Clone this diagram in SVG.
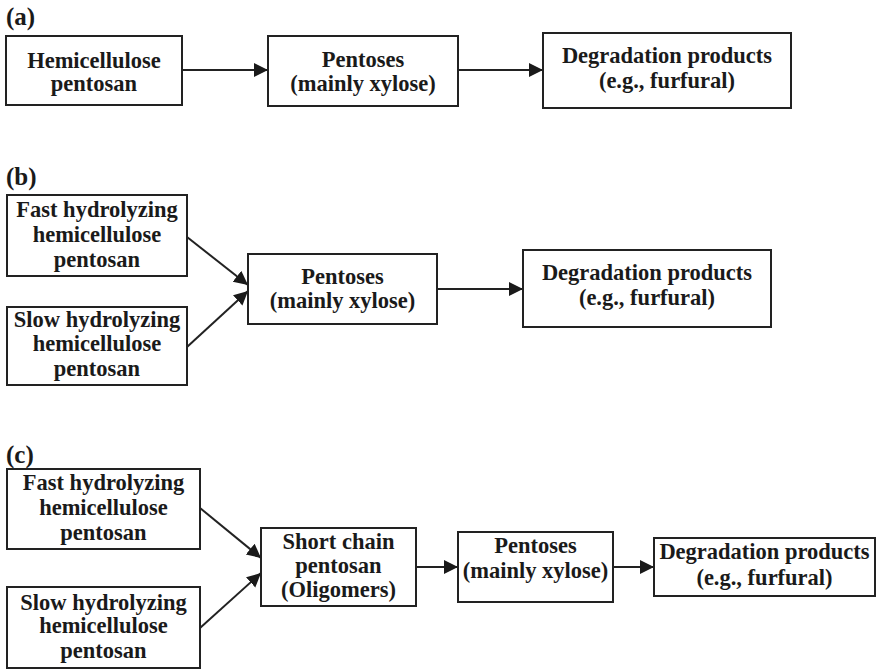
<svg xmlns="http://www.w3.org/2000/svg" width="876" height="670" viewBox="0 0 876 670">
<style>
  .box { fill: #ffffff; stroke: #222222; stroke-width: 2; }
  .t { font-family: "Liberation Serif", "Times New Roman", serif; font-weight: bold; font-size: 22.5px; fill: #1a1a1a; text-anchor: middle; }
  .lbl { font-family: "Liberation Serif", "Times New Roman", serif; font-weight: bold; font-size: 25px; fill: #1a1a1a; }
  .c { stroke: #222222; stroke-width: 2; fill: none; marker-end: url(#ah); }
</style>
<defs>
  <marker id="ah" markerUnits="userSpaceOnUse" markerWidth="15" markerHeight="15" refX="14" refY="7" orient="auto">
    <path d="M0,0 L14,7 L0,14 z" fill="#1a1a1a"/>
  </marker>
</defs>
<rect width="876" height="670" fill="#ffffff"/>

<text class="lbl" x="6" y="25">(a)</text>
<text class="lbl" x="6" y="185">(b)</text>
<text class="lbl" x="6" y="463">(c)</text>

<g id="connectors">
  <line class="c" x1="182" y1="70" x2="268" y2="70"/>
  <line class="c" x1="458" y1="70" x2="543" y2="70"/>
  <line class="c" x1="187" y1="237" x2="248" y2="285"/>
  <line class="c" x1="187" y1="347" x2="248" y2="291"/>
  <line class="c" x1="437" y1="289" x2="523" y2="289"/>
  <line class="c" x1="200" y1="508" x2="261" y2="558"/>
  <line class="c" x1="200" y1="628" x2="261" y2="573"/>
  <line class="c" x1="416" y1="567" x2="458" y2="567"/>
  <line class="c" x1="613" y1="567" x2="654" y2="567"/>
</g>

<g id="a1">
  <rect class="box" x="6" y="36" width="176" height="69"/>
  <text class="t" x="94" y="68">Hemicellulose</text>
  <text class="t" x="94" y="91">pentosan</text>
</g>
<g id="a2">
  <rect class="box" x="268" y="36" width="190" height="70"/>
  <text class="t" x="363" y="67">Pentoses</text>
  <text class="t" x="363" y="91">(mainly xylose)</text>
</g>
<g id="a3">
  <rect class="box" x="543" y="33" width="248" height="75"/>
  <text class="t" x="667" y="63">Degradation products</text>
  <text class="t" x="667" y="88">(e.g., furfural)</text>
</g>

<g id="b1">
  <rect class="box" x="7" y="195" width="180" height="81"/>
  <text class="t" x="97" y="217">Fast hydrolyzing</text>
  <text class="t" x="97" y="242">hemicellulose</text>
  <text class="t" x="97" y="267">pentosan</text>
</g>
<g id="b2">
  <rect class="box" x="7" y="307" width="180" height="78"/>
  <text class="t" x="97" y="327">Slow hydrolyzing</text>
  <text class="t" x="97" y="351">hemicellulose</text>
  <text class="t" x="97" y="376">pentosan</text>
</g>
<g id="b3">
  <rect class="box" x="248" y="254" width="189" height="70"/>
  <text class="t" x="342.5" y="284">Pentoses</text>
  <text class="t" x="342.5" y="308">(mainly xylose)</text>
</g>
<g id="b4">
  <rect class="box" x="523" y="250" width="248" height="77"/>
  <text class="t" x="647" y="280">Degradation products</text>
  <text class="t" x="647" y="305">(e.g., furfural)</text>
</g>

<g id="c1">
  <rect class="box" x="7" y="469" width="193" height="80"/>
  <text class="t" x="103.5" y="490">Fast hydrolyzing</text>
  <text class="t" x="103.5" y="515">hemicellulose</text>
  <text class="t" x="103.5" y="540">pentosan</text>
</g>
<g id="c2">
  <rect class="box" x="7" y="587" width="193" height="81"/>
  <text class="t" x="103.5" y="610">Slow hydrolyzing</text>
  <text class="t" x="103.5" y="633">hemicellulose</text>
  <text class="t" x="103.5" y="658">pentosan</text>
</g>
<g id="c3">
  <rect class="box" x="261" y="528" width="155" height="78"/>
  <text class="t" x="338.5" y="549">Short chain</text>
  <text class="t" x="338.5" y="573">pentosan</text>
  <text class="t" x="338.5" y="597">(Oligomers)</text>
</g>
<g id="c4">
  <rect class="box" x="458" y="532" width="155" height="70"/>
  <text class="t" x="535.5" y="553">Pentoses</text>
  <text class="t" x="535.5" y="578">(mainly xylose)</text>
</g>
<g id="c5">
  <rect class="box" x="654" y="538" width="221" height="58"/>
  <text class="t" x="764.5" y="559">Degradation products</text>
  <text class="t" x="764.5" y="585">(e.g., furfural)</text>
</g>
</svg>
